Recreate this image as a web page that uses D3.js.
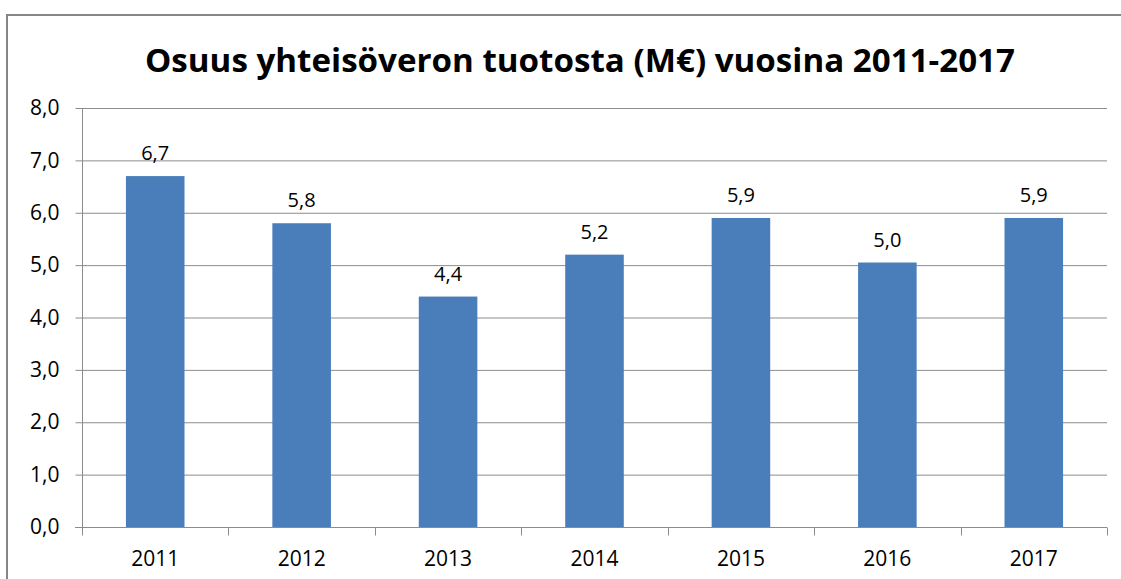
<!DOCTYPE html>
<html>
<head>
<meta charset="utf-8">
<script src="https://cdn.jsdelivr.net/npm/d3@7"></script>
<style>
  body { margin: 0; background: #fff; }
  svg text { font-family: "Open Sans", "DejaVu Sans", sans-serif; fill: #000; }
</style>
</head>
<body>
<svg id="chart" width="1121" height="579"></svg>
<script>
// data
const years = ["2011", "2012", "2013", "2014", "2015", "2016", "2017"]
const values = [6.7, 5.8, 4.4, 5.2, 5.9, 5.05, 5.9]
const labels = ["6,7", "5,8", "4,4", "5,2", "5,9", "5,0", "5,9"]
const yTicks = [0, 1, 2, 3, 4, 5, 6, 7, 8]
const title = "Osuus yhteisöveron tuotosta (M€) vuosina 2011-2017"

const svg = d3.select("#chart")
const fmt = d => d.toFixed(1).replace(".", ",")

const plotL = 82, plotR = 1107, plotT = 108, plotB = 527

//outer frame
svg.append("rect")
    .attr("x", 7).attr("y", 15)
    .attr("width", 1125).attr("height", 600)
    .attr("fill", "#fff").attr("stroke", "#868686").attr("stroke-width", 2)

svg.append("text")
    .attr("x", 580).attr("y", 72)
    .attr("text-anchor", "middle")
    .attr("font-size", 32).attr("font-weight", "bold")
    .attr("textLength", 870).attr("lengthAdjust", "spacingAndGlyphs")
    .text(title)

const x = d3.scaleBand().domain(years).range([plotL, plotR]).paddingInner(0.6).paddingOuter(0.3)
const y = d3.scaleLinear().domain([0, 8]).range([plotB, plotT])

//gridlines
svg.append("g").selectAll("line")
    .data(yTicks.filter(t => t > 0))
    .join("line")
    .attr("x1", plotL).attr("x2", plotR)
    .attr("y1", d => y(d) + 0.5).attr("y2", d => y(d) + 0.5)
    .attr("stroke", "#8c8c8c").attr("stroke-width", 1)

//bars
svg.append("g").selectAll("rect")
    .data(values)
    .join("rect")
    .attr("x", (d, i) => x(years[i]))
    .attr("width", x.bandwidth())
    .attr("y", d => y(d))
    .attr("height", d => y(0) - y(d))
    .attr("fill", "#4a7ebb")

//value labels
svg.append("g").selectAll("text")
    .data(values)
    .join("text")
    .attr("x", (d, i) => x(years[i]) + x.bandwidth() / 2)
    .attr("y", d => y(d) - 16)
    .attr("text-anchor", "middle")
    .attr("font-size", 20)
    .text((d, i) => labels[i])

//y axis
const yAxis = svg.append("g")
    .attr("transform", `translate(${plotL + 0.5},0)`)
    .call(d3.axisLeft(y).tickValues(yTicks).tickFormat(fmt).tickSize(7).tickPadding(16))
yAxis.select(".domain").attr("stroke", "#8c8c8c").attr("d", `M0,${plotT}V${plotB}`)
yAxis.selectAll(".tick line").attr("stroke", "#8c8c8c")
yAxis.selectAll(".tick text").attr("font-size", 21).attr("font-family", null).attr("fill", "#000")

//x axis, ticks between categories
const xAxis = svg.append("g")
    .attr("transform", `translate(0,${plotB + 0.5})`)
xAxis.append("line")
    .attr("x1", plotL - 7).attr("x2", plotR)
    .attr("stroke", "#8c8c8c")
const step = x.step()
xAxis.selectAll("line.tk")
    .data(d3.range(years.length + 1))
    .join("line")
    .attr("class", "tk")
    .attr("x1", i => Math.round(plotL + step * i) + 0.5)
    .attr("x2", i => Math.round(plotL + step * i) + 0.5)
    .attr("y1", 0).attr("y2", 8)
    .attr("stroke", "#8c8c8c")
xAxis.selectAll("text")
    .data(years)
    .join("text")
    .attr("x", d => x(d) + x.bandwidth() / 2)
    .attr("y", 38)
    .attr("text-anchor", "middle")
    .attr("font-size", 21)
    .text(d => d)
</script>
</body>
</html>
